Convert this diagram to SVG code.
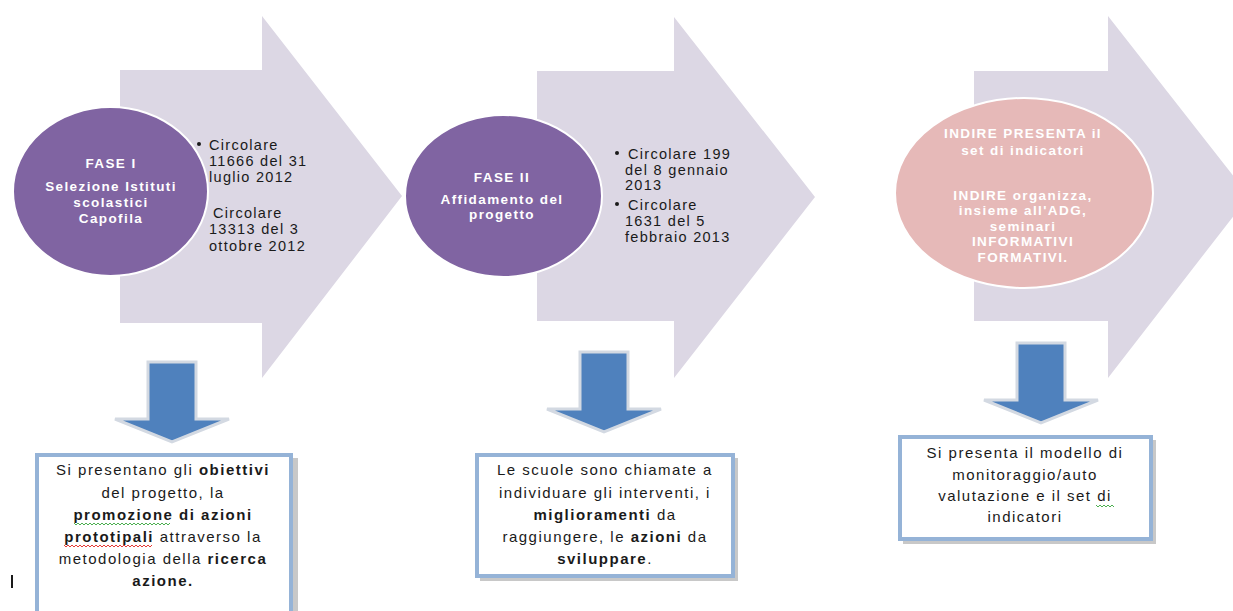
<svg xmlns="http://www.w3.org/2000/svg" width="1233" height="611" viewBox="0 0 1233 611">
  <style>
    .big { fill: #DCD7E4; }
    .phase { fill: #8064A2; stroke: #FFFFFF; stroke-width: 2; }
    .phase3 { fill: #E6B9B8; stroke: #FFFFFF; stroke-width: 2; }
    .ctext { font-family: "Liberation Sans", Arial, sans-serif; font-size: 13.5px; font-weight: bold; fill: #FFFFFF; text-anchor: middle; letter-spacing: 1.4px; }
    .btext { font-family: "Liberation Sans", Arial, sans-serif; font-size: 14.5px; fill: #1A1A1A; letter-spacing: 1.3px; }
    .box { fill: #FFFFFF; stroke: #95B3D7; stroke-width: 4; }
    .boxshadow { fill: #C8C8C8; }
    .xtext { font-family: "Liberation Sans", Arial, sans-serif; font-size: 15px; fill: #1A1A1A; text-anchor: middle; letter-spacing: 1.5px; }
    .b { font-weight: bold; }
    .down { fill: #4F81BD; stroke: #D3D9E2; stroke-width: 3; stroke-linejoin: miter; }
    .wave-g { fill: none; stroke: #4CAF50; stroke-width: 1; }
    .wave-r { fill: none; stroke: #E53935; stroke-width: 1; }
  </style>
  <defs>
    <!-- downward block arrow, origin at top centre of the shaft -->
    <path id="downArrow" d="M-24,0 L24,0 L24,57 L57,57 L0,80 L-57,57 L-24,57 Z"/>
  </defs>

  <rect width="1233" height="611" fill="#FFFFFF"/>

  <!-- large process chevrons -->
  <g id="chevrons">
    <polygon class="big" points="120,70 262,70 262,16 402,196 262,378 262,323 120,323"/>
    <polygon class="big" points="537,71 674,71 674,17 815,197 674,378 674,321 537,321"/>
    <polygon class="big" points="974,71 1108,71 1108,16 1249,196 1108,378 1108,321 974,321"/>
  </g>

  <!-- phase 1 -->
  <g id="fase1">
    <ellipse class="phase" cx="110.5" cy="191.5" rx="97.5" ry="84.5"/>
    <text class="ctext" x="111" y="168">FASE I</text>
    <text class="ctext" x="111" y="191">Selezione Istituti</text>
    <text class="ctext" x="111" y="207">scolastici</text>
    <text class="ctext" x="111" y="223">Capofila</text>
  </g>
  <g id="fase1-circolari">
    <circle cx="199" cy="144" r="2" fill="#1A1A1A"/>
    <text class="btext" x="209" y="150">Circolare</text>
    <text class="btext" x="209" y="166">11666 del 31</text>
    <text class="btext" x="209" y="182">luglio 2012</text>
    <text class="btext" x="213" y="218">Circolare</text>
    <text class="btext" x="209" y="234">13313 del 3</text>
    <text class="btext" x="209" y="251">ottobre 2012</text>
  </g>

  <!-- phase 2 -->
  <g id="fase2">
    <ellipse class="phase" cx="503.5" cy="196" rx="98.5" ry="81"/>
    <text class="ctext" x="502" y="182">FASE II</text>
    <text class="ctext" x="502" y="204">Affidamento del</text>
    <text class="ctext" x="502" y="219">progetto</text>
  </g>
  <g id="fase2-circolari">
    <circle cx="617" cy="153" r="2" fill="#1A1A1A"/>
    <text class="btext" x="628" y="159">Circolare 199</text>
    <text class="btext" x="625" y="175">del 8 gennaio</text>
    <text class="btext" x="625" y="190">2013</text>
    <circle cx="617" cy="204" r="2" fill="#1A1A1A"/>
    <text class="btext" x="628" y="210">Circolare</text>
    <text class="btext" x="625" y="226">1631 del 5</text>
    <text class="btext" x="625" y="242">febbraio 2013</text>
  </g>

  <!-- phase 3 -->
  <g id="fase3">
    <ellipse class="phase3" cx="1024" cy="193" rx="129" ry="95"/>
    <text class="ctext" x="1023" y="138">INDIRE PRESENTA il</text>
    <text class="ctext" x="1023" y="155">set di indicatori</text>
    <text class="ctext" x="1023" y="200">INDIRE organizza,</text>
    <text class="ctext" x="1023" y="215">insieme all'ADG,</text>
    <text class="ctext" x="1023" y="231">seminari</text>
    <text class="ctext" x="1023" y="246">INFORMATIVI</text>
    <text class="ctext" x="1023" y="262">FORMATIVI.</text>
  </g>

  <!-- downward connectors -->
  <g id="connectors">
    <use href="#downArrow" class="down" x="172" y="362"/>
    <use href="#downArrow" class="down" x="604" y="352"/>
    <use href="#downArrow" class="down" x="1041" y="343"/>
  </g>

  <!-- description box 1 -->
  <g id="box1">
    <rect class="boxshadow" x="40" y="458" width="258" height="160"/>
    <rect class="box" x="37" y="455" width="254" height="160"/>
    <text class="xtext" x="163" y="475">Si presentano gli <tspan class="b">obiettivi</tspan></text>
    <text class="xtext" x="163" y="498">del progetto, la</text>
    <text class="xtext" x="163" y="520"><tspan class="b">promozione</tspan> <tspan class="b">di azioni</tspan></text>
    <text class="xtext" x="163" y="542"><tspan class="b">prototipali</tspan> attraverso la</text>
    <text class="xtext" x="163" y="564">metodologia della <tspan class="b">ricerca</tspan></text>
    <text class="xtext" x="163" y="586"><tspan class="b">azione.</tspan></text>
    <path class="wave-g" d="M74,523 l2,2 l2,-2 l2,2 l2,-2 l2,2 l2,-2 l2,2 l2,-2 l2,2 l2,-2 l2,2 l2,-2 l2,2 l2,-2 l2,2 l2,-2 l2,2 l2,-2 l2,2 l2,-2 l2,2 l2,-2 l2,2 l2,-2 l2,2 l2,-2 l2,2 l2,-2 l2,2 l2,-2 l2,2 l2,-2 l2,2 l2,-2 l2,2 l2,-2 l2,2 l2,-2 l2,2 l2,-2 l2,2 l2,-2 l2,2 l2,-2 l2,2 l2,-2 l2,2 l2,-2"/>
    <path class="wave-r" d="M64,545 l2,2 l2,-2 l2,2 l2,-2 l2,2 l2,-2 l2,2 l2,-2 l2,2 l2,-2 l2,2 l2,-2 l2,2 l2,-2 l2,2 l2,-2 l2,2 l2,-2 l2,2 l2,-2 l2,2 l2,-2 l2,2 l2,-2 l2,2 l2,-2 l2,2 l2,-2 l2,2 l2,-2 l2,2 l2,-2 l2,2 l2,-2 l2,2 l2,-2 l2,2 l2,-2 l2,2 l2,-2 l2,2 l2,-2 l2,2 l2,-2"/>
  </g>

  <!-- description box 2 -->
  <g id="box2">
    <rect class="boxshadow" x="480" y="458" width="258" height="123"/>
    <rect class="box" x="477" y="455" width="256" height="121"/>
    <text class="xtext" x="605" y="475">Le scuole sono chiamate a</text>
    <text class="xtext" x="605" y="498">individuare gli interventi, i</text>
    <text class="xtext" x="605" y="520"><tspan class="b">miglioramenti</tspan> da</text>
    <text class="xtext" x="605" y="542">raggiungere, le <tspan class="b">azioni</tspan> da</text>
    <text class="xtext" x="605" y="564"><tspan class="b">sviluppare</tspan>.</text>
  </g>

  <!-- description box 3 -->
  <g id="box3">
    <rect class="boxshadow" x="903" y="440" width="253" height="104"/>
    <rect class="box" x="900" y="437" width="251" height="102"/>
    <text class="xtext" x="1025" y="458">Si presenta il modello di</text>
    <text class="xtext" x="1025" y="480">monitoraggio/auto</text>
    <text class="xtext" x="1025" y="501">valutazione e il set di</text>
    <text class="xtext" x="1025" y="522">indicatori</text>
    <path class="wave-g" d="M1096,505 l2,2 l2,-2 l2,2 l2,-2 l2,2 l2,-2 l2,2 l2,-2 l2,2"/>
  </g>

  <!-- text cursor -->
  <rect x="11" y="575" width="2" height="13" fill="#1A1A1A"/>
</svg>
